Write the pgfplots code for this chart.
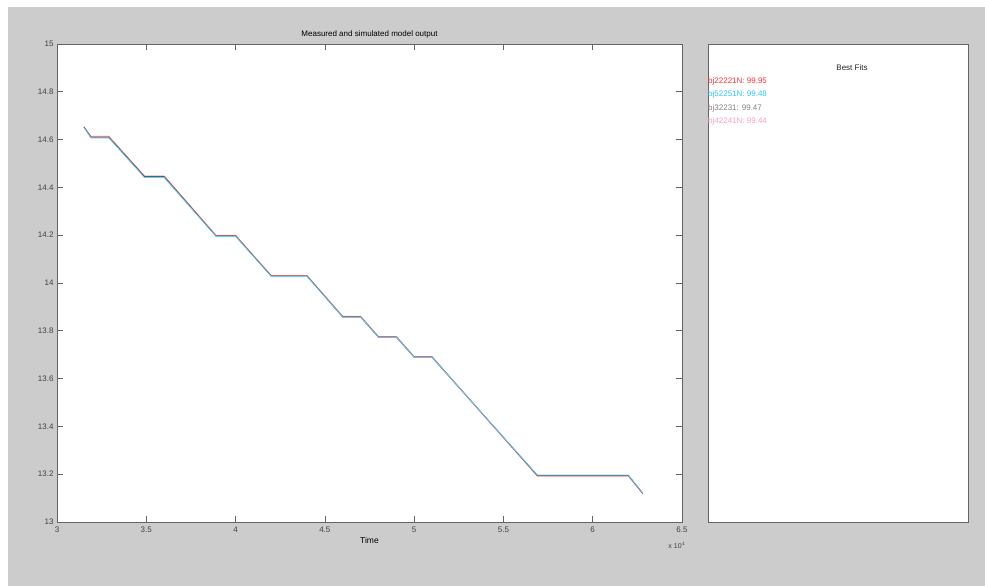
\documentclass[border=0pt]{standalone}
\usepackage{fontspec}
\setmainfont{Liberation Sans}
\usepackage{pgfplots}
\pgfplotsset{compat=1.18}
\definecolor{bg}{RGB}{204,204,204}
\definecolor{axgray}{RGB}{100,100,100}
\definecolor{fitred}{RGB}{255,50,50}
\definecolor{fitcyan}{RGB}{50,195,255}
\definecolor{linecyan}{RGB}{90,210,255}
\definecolor{linered}{RGB}{240,110,110}
\definecolor{fitgray}{RGB}{130,130,130}
\definecolor{fitpink}{RGB}{255,160,185}
\definecolor{meas}{RGB}{70,70,80}
\begin{document}
\begin{tikzpicture}[x=1pt,y=1pt]
\path[use as bounding box] (0,0) rectangle (985,586);
\fill[white] (0,0) rectangle (985,586);
\fill[bg] (8,0) rectangle (985,579);
% right panel
\draw[axgray, fill=white, line width=0.8pt] (708,64) rectangle (968,542);
\node[font=\fontsize{8}{9}\selectfont, text=black!85] at (852,518) {Best Fits};
\node[anchor=west, inner sep=0pt, font=\fontsize{8}{9}\selectfont, text=fitred] at (708,505) {bj22221N: 99.95};
\node[anchor=west, inner sep=0pt, font=\fontsize{8}{9}\selectfont, text=fitcyan] at (708,491.5) {bj52251N: 99.48};
\node[anchor=west, inner sep=0pt, font=\fontsize{8}{9}\selectfont, text=fitgray] at (708,478) {bj32231: 99.47};
\node[anchor=west, inner sep=0pt, font=\fontsize{8}{9}\selectfont, text=fitpink] at (708,464.5) {bj42241N: 99.44};
\begin{axis}[
  at={(57pt,64pt)}, anchor=south west,
  scale only axis, width=625pt, height=478pt,
  xmin=3, xmax=6.5, ymin=13, ymax=15,
  xtick={3,3.5,4,4.5,5,5.5,6,6.5},
  xticklabels={3,3.5,4,4.5,5,5.5,6,6.5},
  ytick={13,13.2,13.4,13.6,13.8,14,14.2,14.4,14.6,14.8,15},
  yticklabels={13,13.2,13.4,13.6,13.8,14,14.2,14.4,14.6,14.8,15},
  axis background/.style={fill=white},
  axis line style={axgray, line width=0.8pt},
  tick style={axgray, line width=0.6pt},
  major tick length=6pt,
  tick align=inside,
  ticklabel style={font=\fontsize{8}{9}\selectfont, text=black!75},
  xticklabel style={yshift=-1pt},
  title={Measured and simulated model output},
  title style={font=\fontsize{8}{9}\selectfont, yshift=-4pt},
  xlabel={Time},
  xlabel style={font=\fontsize{8.5}{9}\selectfont, yshift=2pt},
  every axis plot/.append style={line width=0.75pt},
]
\addplot[fitpink] coordinates {
(3.151,14.653) (3.19,14.608) (3.29,14.608) (3.49,14.443) (3.60,14.443)
(3.89,14.195) (4.00,14.195) (4.20,14.027) (4.40,14.027) (4.60,13.856)
(4.70,13.856) (4.80,13.772) (4.90,13.772) (5.00,13.688) (5.10,13.688)
(5.69,13.192) (6.20,13.192) (6.28,13.118)};
\addplot[fitgray] coordinates {
(3.151,14.653) (3.19,14.611) (3.29,14.611) (3.49,14.446) (3.60,14.446)
(3.89,14.198) (4.00,14.198) (4.20,14.030) (4.40,14.030) (4.60,13.859)
(4.70,13.859) (4.80,13.775) (4.90,13.775) (5.00,13.691) (5.10,13.691)
(5.69,13.195) (6.20,13.195) (6.28,13.120)};
\addplot[linered] coordinates {
(3.151,14.653) (3.19,14.614) (3.29,14.614) (3.49,14.448) (3.60,14.448)
(3.89,14.200) (4.00,14.200) (4.20,14.031) (4.40,14.031) (4.60,13.861)
(4.70,13.861) (4.80,13.776) (4.90,13.776) (5.00,13.692) (5.10,13.692)
(5.69,13.192) (6.20,13.192) (6.28,13.120)};
\addplot[meas, line width=0.5pt] coordinates {
(3.151,14.653) (3.19,14.610) (3.29,14.610) (3.49,14.445) (3.60,14.445)
(3.89,14.197) (4.00,14.197) (4.20,14.029) (4.40,14.029) (4.60,13.858)
(4.70,13.858) (4.80,13.774) (4.90,13.774) (5.00,13.690) (5.10,13.690)
(5.69,13.195) (6.20,13.195) (6.28,13.120)};
\addplot[linecyan] coordinates {
(3.151,14.650) (3.19,14.607) (3.29,14.607) (3.49,14.441) (3.60,14.441)
(3.89,14.195) (4.00,14.195) (4.20,14.027) (4.40,14.027) (4.60,13.857)
(4.70,13.857) (4.80,13.773) (4.90,13.773) (5.00,13.689) (5.10,13.689)
(5.69,13.197) (6.20,13.197) (6.28,13.122)};
\end{axis}
\node[font=\fontsize{7}{8}\selectfont, text=black!75] at (677,41) {x 10$^{\scriptscriptstyle 4}$};
\end{tikzpicture}
\end{document}
